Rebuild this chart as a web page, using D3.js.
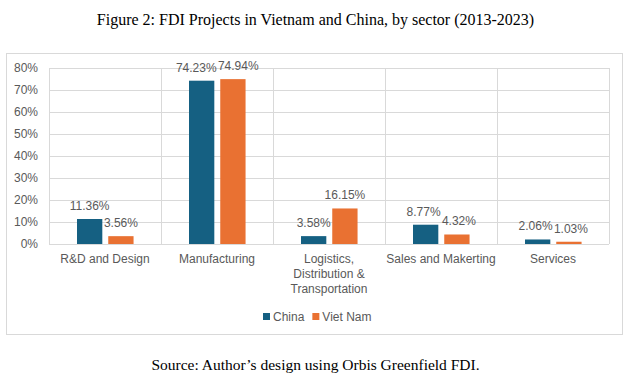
<!DOCTYPE html>
<html>
<head>
<meta charset="utf-8">
<script src="https://cdn.jsdelivr.net/npm/d3@7"></script>
<style>
  html, body { margin: 0; padding: 0; background: #fff; }
  svg { display: block; }
</style>
</head>
<body>
<svg id="chart" width="631" height="383"></svg>
<script>
const categories = ["R&D and Design", "Manufacturing", "Logistics, Distribution & Transportation", "Sales and Makerting", "Services"];
const seriesNames = ["China", "Viet Nam"];
const chinaValues = [11.36, 74.23, 3.58, 8.77, 2.06];
const vietNamValues = [3.56, 74.94, 16.15, 4.32, 1.03];
const yTicks = [0, 10, 20, 30, 40, 50, 60, 70, 80];
const seriesColors = ["#156082", "#E97132"];
const titleText = "Figure 2: FDI Projects in Vietnam and China, by sector (2013-2023)";
const sourceText = "Source: Author\u2019s design using Orbis Greenfield FDI.";

const seriesValues = [chinaValues, vietNamValues];
const rows = categories.map((c, i) => ({ category: c, values: seriesNames.map((s, j) => ({ series: s, value: seriesValues[j][i] })) }));

const svg = d3.select("#chart");
const W = 631, H = 383;
const sansFont = "'Liberation Sans', Arial, sans-serif";
const textGrey = "#595959";

// Title and source
svg.append("text").attr("x", W / 2).attr("y", 25).attr("text-anchor", "middle")
  .attr("font-family", "'Liberation Serif', 'Times New Roman', serif").attr("font-size", 16)
  .attr("fill", "#000").text(titleText);
svg.append("text").attr("x", W / 2).attr("y", 370).attr("text-anchor", "middle")
  .attr("font-family", "'Liberation Serif', 'Times New Roman', serif").attr("font-size", 15.5)
  .attr("fill", "#000").text(sourceText);

// Chart frame
svg.append("rect").attr("x", 6.5).attr("y", 53.5).attr("width", 616).attr("height", 281)
  .attr("fill", "#fff").attr("stroke", "#d9d9d9").attr("stroke-width", 1);

const plot = { left: 49, right: 609, top: 68, bottom: 244 };

const x0 = d3.scaleBand().domain(categories).range([plot.left, plot.right]).paddingInner(0).paddingOuter(0);
const x1 = d3.scaleBand().domain(seriesNames)
  .range([x0.bandwidth() * 0.25, x0.bandwidth() * 0.755]).paddingInner(0.19).paddingOuter(0);
const y = d3.scaleLinear().domain([0, 80]).range([plot.bottom, plot.top]);
const color = d3.scaleOrdinal().domain(seriesNames).range(seriesColors);

// Horizontal gridlines
svg.append("g").selectAll("line").data(yTicks).join("line")
  .attr("x1", plot.left).attr("x2", plot.right)
  .attr("y1", d => Math.round(y(d)) + 0.5).attr("y2", d => Math.round(y(d)) + 0.5)
  .attr("stroke", "#d9d9d9").attr("stroke-width", 1);

// Vertical gridlines at category boundaries
const bounds = categories.map(c => x0(c)).concat([plot.right]);
svg.append("g").selectAll("line").data(bounds).join("line")
  .attr("x1", d => Math.round(d) + 0.5).attr("x2", d => Math.round(d) + 0.5)
  .attr("y1", plot.top).attr("y2", plot.bottom)
  .attr("stroke", "#d9d9d9").attr("stroke-width", 1);

// Y axis labels
const yAxis = d3.axisLeft(y).tickValues(yTicks).tickFormat(d => d + "%").tickSize(0).tickPadding(11);
const yg = svg.append("g").attr("transform", `translate(${plot.left},0)`).call(yAxis);
yg.select(".domain").remove();
yg.selectAll("text").attr("font-family", sansFont).attr("font-size", 12).attr("fill", textGrey);

// Bars
const groups = svg.append("g").selectAll("g").data(rows).join("g")
  .attr("transform", d => `translate(${x0(d.category)},0)`);
groups.selectAll("rect").data(d => d.values).join("rect")
  .attr("x", d => x1(d.series))
  .attr("width", x1.bandwidth())
  .attr("y", d => y(d.value))
  .attr("height", d => y(0) - y(d.value))
  .attr("fill", d => color(d.series));

// Data labels
groups.each(function () {
  const g = d3.select(this);
  const labels = g.selectAll("text").data(d => d.values).join("text")
    .attr("x", d => x1(d.series) + x1.bandwidth() / 2)
    .attr("y", d => y(d.value) - 9)
    .attr("text-anchor", "middle")
    .attr("font-family", sansFont).attr("font-size", 12).attr("fill", textGrey)
    .text(d => d.value.toFixed(2) + "%");
  // nudge apart labels that collide (same height band)
  const nodes = labels.nodes();
  const a = nodes[0].getBBox(), b = nodes[1].getBBox();
  const vOverlap = a.y < b.y + b.height && b.y < a.y + a.height;
  const hOverlap = a.x + a.width - b.x + 1;
  if (vOverlap && hOverlap > 0) {
    const ax = +d3.select(nodes[0]).attr("x"), bx = +d3.select(nodes[1]).attr("x");
    d3.select(nodes[0]).attr("x", ax - hOverlap / 2);
    d3.select(nodes[1]).attr("x", bx + hOverlap / 2);
  }
});

// Category axis labels with wrapping
const xg = svg.append("g");
categories.forEach(c => {
  const cx = x0(c) + x0.bandwidth() / 2;
  const t = xg.append("text").attr("x", cx).attr("y", 263)
    .attr("text-anchor", "middle").attr("font-family", sansFont).attr("font-size", 12).attr("fill", textGrey);
  const words = c.split(" ");
  let line = [];
  let tspan = t.append("tspan").attr("x", cx).attr("dy", 0);
  words.forEach(w => {
    line.push(w);
    tspan.text(line.join(" "));
    if (tspan.node().getComputedTextLength() > x0.bandwidth() - 2 && line.length > 1) {
      line.pop();
      tspan.text(line.join(" "));
      line = [w];
      tspan = t.append("tspan").attr("x", cx).attr("dy", 15).text(w);
    }
  });
});

// Legend
const legend = svg.append("g").attr("transform", "translate(263,0)");
let lx = 0;
seriesNames.forEach(s => {
  const g = legend.append("g").attr("transform", `translate(${lx},0)`);
  g.append("rect").attr("x", 0).attr("y", 313).attr("width", 7).attr("height", 7).attr("fill", color(s));
  const tx = g.append("text").attr("x", 10).attr("y", 320.5).attr("font-family", sansFont)
    .attr("font-size", 12).attr("fill", textGrey).text(s);
  lx += 10 + tx.node().getComputedTextLength() + 8;
});
</script>
</body>
</html>
